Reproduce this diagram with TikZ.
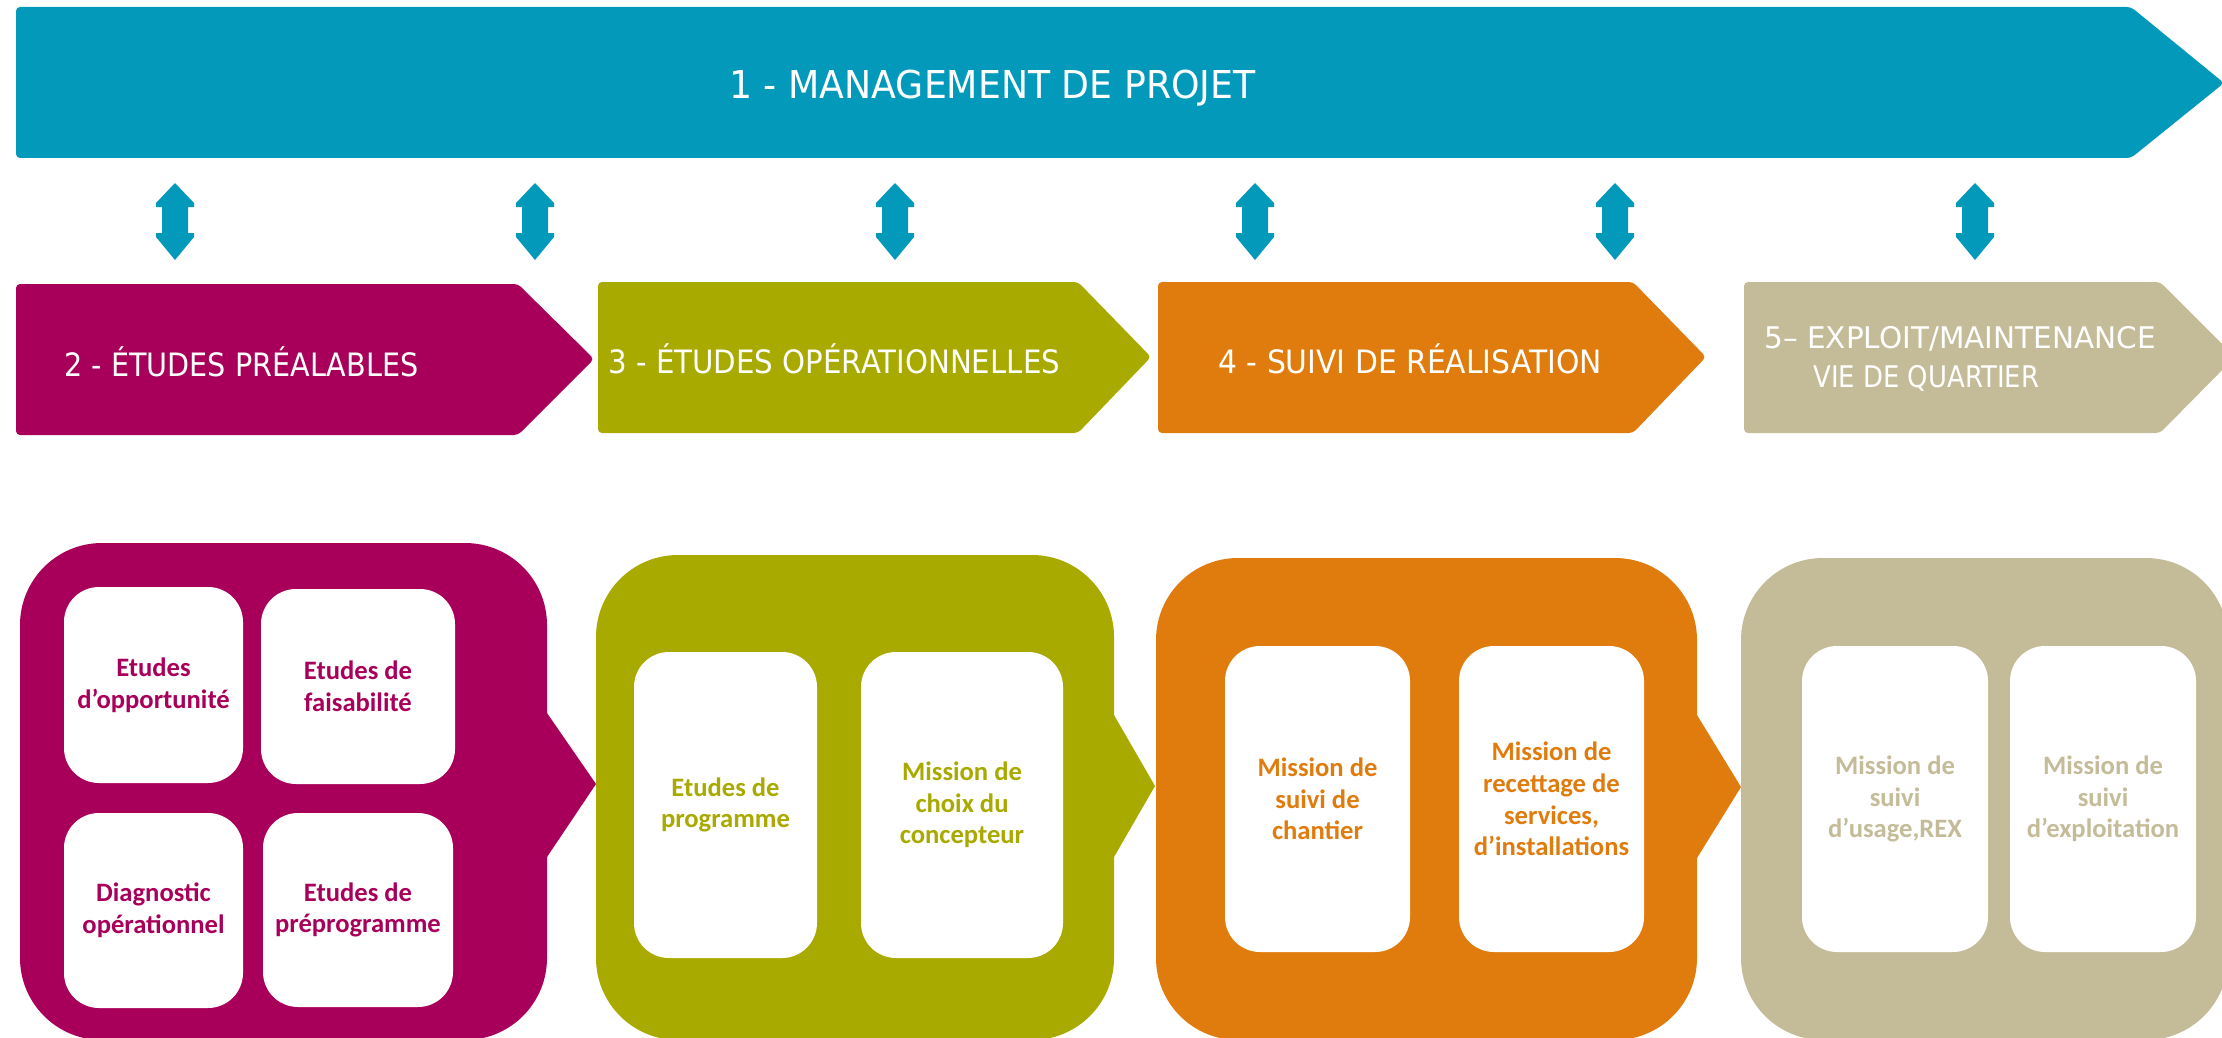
\documentclass[tikz,border=0pt]{standalone}
\usepackage{graphicx}
\usepackage{fontspec}
\newfontfamily\titlefont{DejaVu Sans}
\newfontfamily\boxfont{Carlito}
\definecolor{cTeal}{HTML}{0399BB}
\definecolor{cMag}{HTML}{A8005A}
\definecolor{cOlive}{HTML}{A9AA00}
\definecolor{cOrange}{HTML}{E07C0D}
\definecolor{cTan}{HTML}{C4BC99}
\tikzset{
  bannertitle/.style={text=white, font=\titlefont\fontsize{19.2}{24}\selectfont, inner sep=0pt, anchor=base west},
  phasetitle/.style={text=white, font=\titlefont\fontsize{16.1}{20}\selectfont, inner sep=0pt, anchor=base west},
  phasetitlesmall/.style={text=white, font=\titlefont\fontsize{14.9}{19}\selectfont, inner sep=0pt, anchor=base west},
  chevron/.style={rounded corners=2pt},
  bigbox/.style={rounded corners=41pt},
  inbox/.style={fill=white, rounded corners=17.5pt, inner sep=0pt, align=center,
    font=\boxfont\bfseries\fontsize{13.3}{15.8}\selectfont},
}
\begin{document}
\begin{tikzpicture}[x=0.5pt,y=-0.5pt]
\useasboundingbox (0,0) rectangle (2222,1038);
\clip (0,0) rectangle (2222,1038);

% banner
\fill[cTeal, chevron] (16,7) -- (2131,7) -- (2224,83) -- (2131,158) -- (16,158) -- cycle;
\node[bannertitle] (t1) at (729,98) {\scalebox{0.944}[1]{1 - MANAGEMENT DE PROJET}};

% double arrows
\foreach \x in {175,535,895,1255,1615,1975}{
  \fill[cTeal] (\x,183) -- ++(19,20) -- ++(0,4) -- ++(-6,0) -- ++(0,26) -- ++(6,0) -- ++(0,4)
    -- (\x,260) -- ++(-19,-23) -- ++(0,-4) -- ++(6,0) -- ++(0,-26) -- ++(-6,0) -- ++(0,-4) -- cycle;
}

% phase chevrons
\fill[cMag, chevron] (16,284) -- (518,284) -- (594,359) -- (518,435) -- (16,435) -- cycle;
\fill[cOlive, chevron] (598,282) -- (1078,282) -- (1151,357) -- (1078,433) -- (598,433) -- cycle;
\fill[cOrange, chevron] (1158,282) -- (1633,282) -- (1706,357) -- (1633,433) -- (1158,433) -- cycle;
\fill[cTan, chevron] (1744,282) -- (2160,282) -- (2235,357) -- (2160,433) -- (1744,433) -- cycle;

\node[phasetitle] (t2) at (64,376) {\scalebox{0.89}[1]{2 - ÉTUDES PRÉALABLES}};
\node[phasetitle] (t3) at (608,373) {\scalebox{0.908}[1]{3 - ÉTUDES OPÉRATIONNELLES}};
\node[phasetitle] (t4) at (1218,373) {\scalebox{0.925}[1]{4 - SUIVI DE RÉALISATION}};
\node[phasetitlesmall] (t5) at (1764,348) {\scalebox{0.99}[1]{5– EXPLOIT/MAINTENANCE}};
\node[phasetitlesmall] (t5b) at (1813,387) {\scalebox{0.87}[1]{VIE DE QUARTIER}};

% big boxes
\fill[cMag, bigbox] (20,543) rectangle (547,1040);
\fill[cMag] (540,713) -- (547,713) -- (596,784) -- (547,857) -- (540,857) -- cycle;
\fill[cOlive, bigbox] (596,555) rectangle (1114,1040);
\fill[cOlive] (1107,715) -- (1114,715) -- (1155,786) -- (1114,857) -- (1107,857) -- cycle;
\fill[cOrange, bigbox] (1156,558) rectangle (1697,1040);
\fill[cOrange] (1690,715) -- (1697,715) -- (1741,787) -- (1697,858) -- (1690,858) -- cycle;
\fill[cTan, bigbox] (1741,558) rectangle (2228,1040);

% inner boxes
\node[inbox, text=cMag, minimum width=89.5pt, minimum height=98pt] (a1) at (153.5,685) {Etudes\\d’opportunité};
\node[inbox, text=cMag, minimum width=97pt, minimum height=97.5pt] (a2) at (358,686.5) {Etudes de\\faisabilité};
\node[inbox, text=cMag, minimum width=89.5pt, minimum height=97.5pt] (a3) at (153.5,910.5) {Diagnostic\\opérationnel};
\node[inbox, text=cMag, minimum width=95pt, minimum height=97pt] (a4) at (358,910) {Etudes de\\préprogramme};

\node[inbox, text=cOlive, minimum width=91.5pt, minimum height=153pt] (b1) at (725.5,805) {Etudes de\\programme};
\node[inbox, text=cOlive, minimum width=101pt, minimum height=153pt] (b2) at (962,805) {Mission de\\choix du\\concepteur};

\node[inbox, text=cOrange, minimum width=92.5pt, minimum height=153pt] (c1) at (1317.5,799) {Mission de\\suivi de\\chantier};
\node[inbox, text=cOrange, minimum width=92.5pt, minimum height=153pt] (c2) at (1551.5,799) {Mission de\\recettage de\\services,\\d’installations};

\node[inbox, text=cTan, minimum width=93pt, minimum height=153pt] (d1) at (1895,799) {Mission de\\suivi\\d’usage,REX};
\node[inbox, text=cTan, minimum width=93pt, minimum height=153pt] (d2) at (2103,799) {Mission de\\suivi\\d’exploitation};
\end{tikzpicture}
\end{document}
